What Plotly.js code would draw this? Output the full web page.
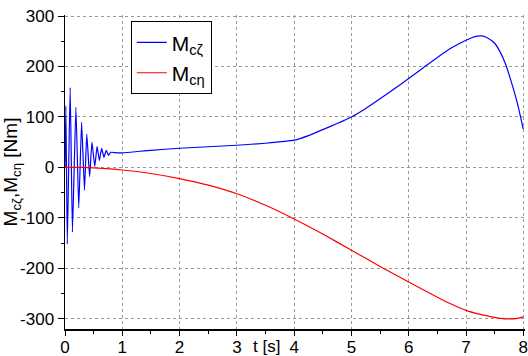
<!DOCTYPE html>
<html>
<head>
<meta charset="utf-8">
<script src="https://cdn.plot.ly/plotly-3.0.1.min.js"></script>
<style>html,body{margin:0;padding:0;background:#fff;}#chart{width:528px;height:356px;}</style>
</head>
<body>
<div id="chart"></div>
<script>
// M_cζ (blue) — time [s] and moment [Nm]
var tZeta = [0, 0.015, 0.04, 0.09, 0.13, 0.19, 0.24, 0.29, 0.34, 0.38, 0.43, 0.47, 0.52, 0.56, 0.6, 0.64, 0.68, 0.72, 0.76, 0.8, 0.9, 1.0, 1.5, 2.0, 2.5, 3.0, 3.5, 4.0, 4.25, 4.5, 4.75, 5.0, 5.25, 5.5, 5.75, 6.0, 6.25, 6.5, 6.75, 7.0, 7.1, 7.2, 7.3, 7.4, 7.5, 7.6, 7.7, 7.8, 7.9, 8.0];
var mZeta = [0, 122, -152, 158, -128, 119, -80, 90, -45, 66, -18, 50, 2, 42, 14, 38, 20, 34, 24, 30, 29, 29, 34, 38, 41, 44, 48, 54, 63, 75, 87, 100, 117, 136, 156, 176, 197, 218, 237, 252, 257, 260, 260, 255, 246, 228, 202, 166, 126, 76];
// M_cη (red)
var tEta = [0, 0.3, 0.5, 1.0, 1.5, 2.0, 2.5, 3.0, 3.5, 4.0, 4.5, 5.0, 5.5, 6.0, 6.5, 6.75, 7.0, 7.25, 7.5, 7.6, 7.75, 7.9, 8.0];
var mEta = [0, 0, -1, -5, -12, -22, -35, -52, -75, -102, -132, -164, -196, -227, -257, -271, -283, -291, -297, -299, -300, -299, -296];
var xTicks = [0, 1, 2, 3, 4, 5, 6, 7, 8];
var yTicks = [-300, -200, -100, 0, 100, 200, 300];

var font = {family: 'Liberation Sans, Arial, sans-serif', size: 17, color: '#000'};
var traces = [
  {x: tZeta, y: mZeta, mode: 'lines', name: 'M<sub>cζ</sub>', line: {color: '#0000ff', width: 1.2, shape: 'spline', smoothing: 0.4}},
  {x: tEta, y: mEta, mode: 'lines', name: 'M<sub>cη</sub>', line: {color: '#ff0000', width: 1.2, shape: 'spline', smoothing: 0.6}}
];
var gridStyle = {gridcolor: '#999', griddash: 'dot', gridwidth: 1};
var layout = {
  width: 528, height: 356,
  margin: {l: 65, r: 3, t: 15, b: 27},
  paper_bgcolor: '#fff', plot_bgcolor: '#fff',
  font: font,
  showlegend: true,
  legend: {x: 0.143, y: 0.98, xanchor: 'left', yanchor: 'top', bgcolor: '#fff', bordercolor: '#000', borderwidth: 1,
           font: {family: 'Liberation Sans, Arial, sans-serif', size: 21, color: '#000'}, tracegroupgap: 0, itemwidth: 30},
  xaxis: Object.assign({
    range: [0, 8.03], tickvals: xTicks, ticktext: xTicks.map(String),
    showline: true, linecolor: '#000', linewidth: 1.5, zeroline: false,
    ticks: 'outside', ticklen: 5, tickcolor: '#000', tickfont: font, ticklabelstandoff: -3, ticklabeloverflow: 'allow',
    minor: {dtick: 0.5, tick0: 0, ticks: 'outside', ticklen: 3, tickcolor: '#000', showgrid: false}
  }, gridStyle),
  yaxis: Object.assign({
    range: [-320, 302], tickvals: yTicks, ticktext: yTicks.map(String),
    showline: true, linecolor: '#000', linewidth: 1.5, zeroline: false,
    ticks: 'outside', ticklen: 6, tickcolor: '#000', tickfont: font, ticklabeloverflow: 'allow',
    minor: {dtick: 50, tick0: 0, ticks: 'outside', ticklen: 3, tickcolor: '#000', showgrid: false},
    title: {text: 'M<sub>cζ</sub>,M<sub>cη</sub> [Nm]', font: {family: 'Liberation Sans, Arial, sans-serif', size: 19, color: '#000'}, standoff: 0}
  }, gridStyle),
  annotations: [{text: 't [s]', xref: 'x', yref: 'paper', x: 3.52, y: 0, yshift: -17, showarrow: false, font: font, yanchor: 'middle'}]
};
Plotly.newPlot('chart', traces, layout, {displayModeBar: false, staticPlot: true});
</script>
</body>
</html>
